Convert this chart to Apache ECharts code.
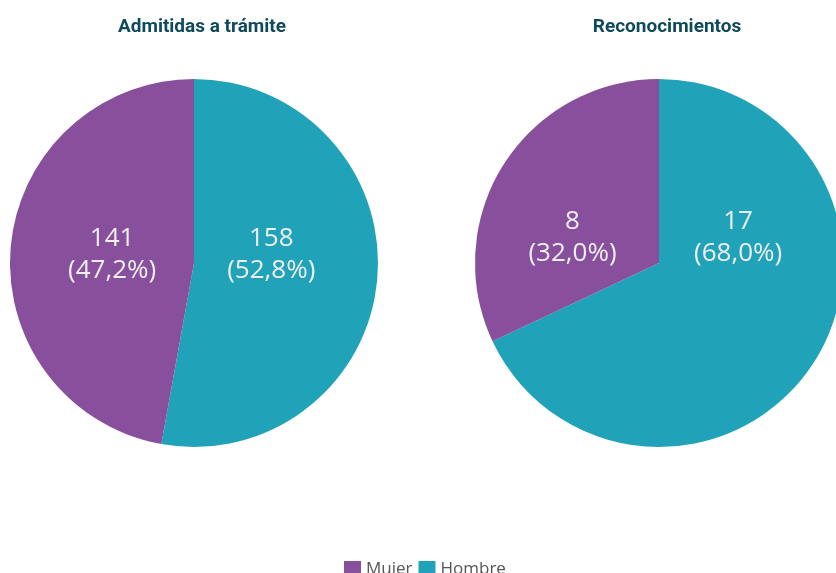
<!DOCTYPE html>
<html>
<head>
<meta charset="utf-8">
<script src="https://cdn.jsdelivr.net/npm/echarts@6/dist/echarts.min.js"></script>
<style>
  html, body { margin: 0; padding: 0; background: #ffffff; }
  #chart { width: 836px; height: 573px; }
</style>
</head>
<body>
<div id="chart"></div>
<script>
// ---- data ----
const chartTitles = ['Admitidas a trámite', 'Reconocimientos'];
const categories = ['Hombre', 'Mujer'];          // clockwise from top
const legendOrder = ['Mujer', 'Hombre'];
const admitidasValues = [158, 141];
const reconocimientosValues = [17, 8];

// ---- styles ----
const colors = { Hombre: '#20a2b8', Mujer: '#884f9c' };
const pieCenters = [[194, 263], [659, 263]];
const pieRadius = 184;
// label position relative to pie centre, in radius units, per series/category order
const labelRel = [
  [[0.42, -0.045], [-0.445, -0.045]],
  [[0.43, -0.14], [-0.47, -0.14]]
];

function fmtPct(v, arr) {
  const s = arr.reduce((a, b) => a + b, 0);
  return (v / s * 100).toFixed(1).replace('.', ',') + '%';
}

function makeSeries(idx, values) {
  return {
    type: 'pie',
    name: chartTitles[idx],
    center: pieCenters[idx],
    radius: pieRadius,
    startAngle: 90,
    clockwise: true,
    silent: true,
    avoidLabelOverlap: false,
    data: categories.map((c, i) => ({
      name: c,
      value: values[i],
      itemStyle: { color: colors[c] }
    })),
    label: {
      show: true,
      position: 'inside',
      formatter: p => p.value + '\n(' + fmtPct(p.value, values) + ')',
      color: '#efefef',
      fontFamily: '"Open Sans", sans-serif',
      fontSize: 26,
      lineHeight: 32,
      align: 'center'
    },
    labelLine: { show: false },
    labelLayout: p => ({
      x: pieCenters[idx][0] + labelRel[idx][p.dataIndex][0] * pieRadius,
      y: pieCenters[idx][1] + labelRel[idx][p.dataIndex][1] * pieRadius,
      align: 'center',
      verticalAlign: 'middle'
    }),
    itemStyle: { borderWidth: 0 },
    emphasis: { disabled: true }
  };
}

const chart = echarts.init(document.getElementById('chart'), null, { renderer: 'canvas' });
chart.setOption({
  animation: false,
  backgroundColor: '#ffffff',
  title: chartTitles.map((t, i) => ({
    text: t,
    left: pieCenters[i][0] + 3,
    top: 13,
    textAlign: 'center',
    textStyle: {
      fontFamily: 'Roboto, "Liberation Sans", sans-serif',
      fontWeight: 'bold',
      fontSize: 19,
      color: '#0f4a5b'
    }
  })),
  legend: {
    data: legendOrder,
    left: 339,
    top: 556,
    icon: 'rect',
    itemWidth: 17,
    itemHeight: 17,
    itemGap: 6,
    selectedMode: false,
    textStyle: {
      fontFamily: '"Open Sans", sans-serif',
      fontSize: 17,
      color: '#555555'
    }
  },
  series: [makeSeries(0, admitidasValues), makeSeries(1, reconocimientosValues)]
});
</script>
</body>
</html>
